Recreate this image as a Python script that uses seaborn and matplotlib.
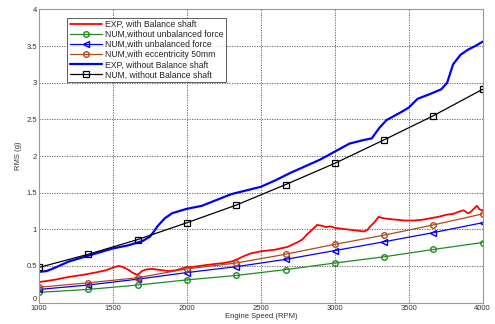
import matplotlib
matplotlib.use("Agg")
import matplotlib.pyplot as plt
import seaborn as sns
import pandas as pd

sns.set_style("whitegrid")
plt.rcParams['font.family'] = ['Liberation Sans', 'DejaVu Sans']

# numerical model points
rpm_num = [1000, 1333, 1667, 2000, 2333, 2667, 3000, 3333, 3667, 4000]
num_no_force = [0.14, 0.18, 0.24, 0.31, 0.37, 0.45, 0.54, 0.625, 0.725, 0.82]
num_force = [0.18, 0.24, 0.32, 0.41, 0.49, 0.59, 0.71, 0.83, 0.955, 1.09]
num_ecc = [0.21, 0.27, 0.34, 0.46, 0.54, 0.66, 0.795, 0.92, 1.06, 1.21]
num_no_shaft = [0.48, 0.66, 0.86, 1.09, 1.33, 1.61, 1.90, 2.22, 2.55, 2.91]

# measured, with balance shaft
rpm_exp_bal = [1000, 1100, 1200, 1300, 1380, 1450, 1490, 1520, 1540, 1560, 1582, 1610,
               1630, 1661, 1680, 1695, 1720, 1762, 1800, 1840, 1875, 1920, 1960, 1990,
               2050, 2120, 2200, 2250, 2300, 2340, 2380, 2430, 2500, 2590, 2680, 2745,
               2780, 2812, 2850, 2880, 2910, 2940, 2970, 3000, 3040, 3080, 3120, 3160,
               3195, 3220, 3240, 3270, 3296, 3330, 3370, 3420, 3470, 3533, 3590, 3645,
               3700, 3758, 3800, 3840, 3871, 3900, 3916, 3940, 3961, 3980, 4000]
exp_bal = [0.28, 0.31, 0.35, 0.38, 0.41, 0.44, 0.47, 0.49, 0.50, 0.49, 0.47, 0.44,
           0.41, 0.38, 0.40, 0.43, 0.45, 0.46, 0.45, 0.44, 0.43, 0.44, 0.46, 0.48,
           0.49, 0.51, 0.53, 0.54, 0.56, 0.59, 0.63, 0.67, 0.70, 0.72, 0.76, 0.82,
           0.86, 0.93, 1.00, 1.06, 1.05, 1.03, 1.04, 1.02, 1.01, 1.00, 0.99, 0.98,
           0.97, 0.99, 1.04, 1.10, 1.17, 1.15, 1.14, 1.13, 1.12, 1.12, 1.13, 1.15,
           1.17, 1.20, 1.21, 1.24, 1.26, 1.22, 1.23, 1.28, 1.32, 1.27, 1.26]

# measured, without balance shaft
rpm_exp_nobal = [1000, 1050, 1100, 1200, 1333, 1400, 1500, 1600, 1700, 1750, 1780, 1800,
                 1850, 1900, 2000, 2100, 2200, 2300, 2400, 2500, 2600, 2700, 2800, 2900,
                 3000, 3100, 3200, 3250, 3300, 3350, 3450, 3500, 3560, 3650, 3720, 3760,
                 3800, 3850, 3900, 3950, 4000]
exp_nobal = [0.42, 0.43, 0.47, 0.56, 0.64, 0.68, 0.74, 0.78, 0.84, 0.90, 0.98, 1.04,
             1.15, 1.22, 1.28, 1.32, 1.40, 1.48, 1.53, 1.58, 1.67, 1.77, 1.86, 1.95,
             2.06, 2.17, 2.22, 2.24, 2.38, 2.49, 2.60, 2.66, 2.78, 2.85, 2.91, 3.00,
             3.25, 3.38, 3.45, 3.50, 3.56]

fig, ax = plt.subplots(figsize=(4.95, 3.24), dpi=100)
fig.subplots_adjust(left=0.079, right=0.975, bottom=0.066, top=0.971)

sns.lineplot(x=rpm_exp_bal, y=exp_bal, ax=ax, color='red', lw=1.3,
             label='EXP, with Balance shaft')
sns.lineplot(x=rpm_num, y=num_no_force, ax=ax, color='#1e8c1e', lw=0.9, marker='o',
             markersize=4, markerfacecolor='none', markeredgecolor='#1e8c1e',
             markeredgewidth=1, label='NUM,without unbalanced force')
sns.lineplot(x=rpm_num, y=num_force, ax=ax, color='blue', lw=0.9, marker='<',
             markersize=4, markerfacecolor='none', markeredgecolor='blue',
             markeredgewidth=1, label='NUM,with unbalanced force')
sns.lineplot(x=rpm_num, y=num_ecc, ax=ax, color='#b04a1a', lw=0.9, marker='o',
             markersize=4, markerfacecolor='none', markeredgecolor='#b04a1a',
             markeredgewidth=1, label='NUM,with eccentricity 50mm')
sns.lineplot(x=rpm_exp_nobal, y=exp_nobal, ax=ax, color='blue', lw=1.6,
             label='EXP, without Balance shaft')
sns.lineplot(x=rpm_num, y=num_no_shaft, ax=ax, color='black', lw=0.9, marker='s',
             markersize=4, markerfacecolor='none', markeredgecolor='black',
             markeredgewidth=0.9, label='NUM, without Balance shaft')

ax.set_xlim(1000, 4000)
ax.set_ylim(0, 4)
ax.set_xticks([1000, 1500, 2000, 2500, 3000, 3500, 4000])
ax.set_yticks([0, 0.5, 1, 1.5, 2, 2.5, 3, 3.5, 4])
ax.set_yticklabels(['0', '0.5', '1', '1.5', '2', '2.5', '3', '3.5', '4'])
ax.tick_params(labelsize=5.5, length=2, direction='in', pad=1.5, colors='#333333')
ax.get_yticklabels()[0].set_verticalalignment('bottom')
ax.grid(True, linestyle=(0, (1.5, 1.5)), color='#555555', lw=0.6)
for s in ax.spines.values():
    s.set_color('#999999')
    s.set_linewidth(0.8)

ax.set_xlabel('Engine Speed (RPM)', fontsize=5.5, labelpad=1, color='#333333')
ax.set_ylabel('RMS (g)', fontsize=5.5, labelpad=3, color='#333333')

leg = ax.legend(loc='upper left', bbox_to_anchor=(0.063, 0.972), fontsize=6.2,
                frameon=True, fancybox=False, borderpad=0.3, labelspacing=0.12,
                handlelength=3.8, handletextpad=0.3, borderaxespad=0)
leg.get_frame().set_edgecolor('#333333')
leg.get_frame().set_linewidth(0.7)

fig.savefig('out.png', dpi=100)
